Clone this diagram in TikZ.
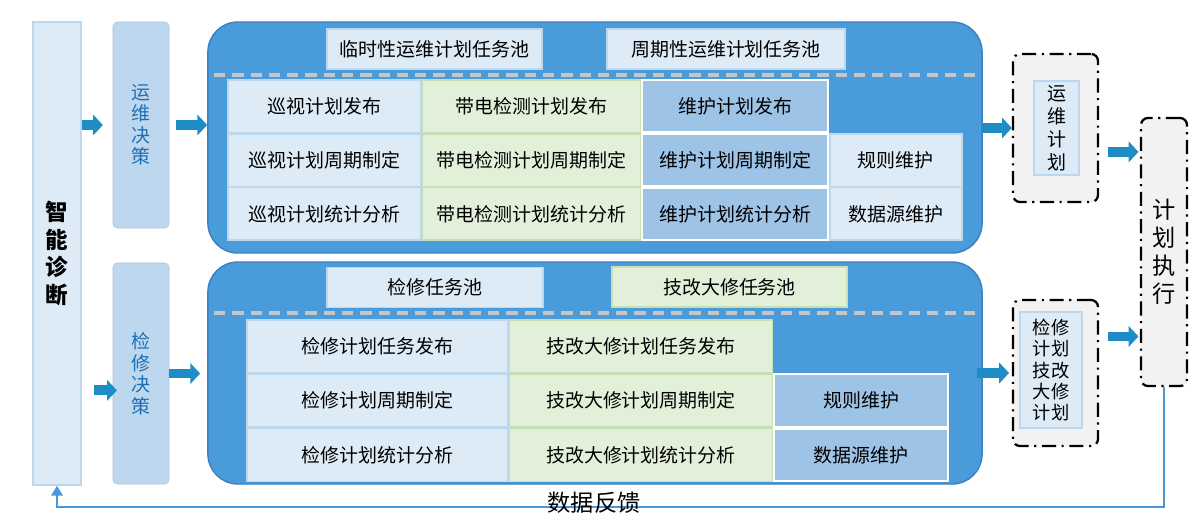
\documentclass[tikz,border=0pt]{standalone}
\usepackage{fontspec}
\setmainfont{Noto Sans CJK SC}
\usetikzlibrary{arrows.meta, positioning}
\definecolor{CellBlue}{HTML}{DDEBF7}
\definecolor{CellLine}{HTML}{BDD7EE}
\definecolor{CellGreen}{HTML}{E2F0D9}
\definecolor{GreenLine}{HTML}{C5E0B4}
\definecolor{MidBlue}{HTML}{9DC3E6}
\definecolor{PanelBlue}{HTML}{4A9BD9}
\definecolor{PanelLine}{HTML}{3B80C0}
\definecolor{ArrowBlue}{HTML}{1E8DC6}
\definecolor{FeedBlue}{HTML}{4A96DA}
\definecolor{DeciText}{HTML}{1F6FB5}
\definecolor{PlanGray}{HTML}{F2F2F2}

\begin{document}
\begin{tikzpicture}[
			x=0.025cm, y=-0.025cm,
			node distance=0pt,
			cell/.style={rectangle, draw=CellLine, fill=CellBlue, line width=1pt, inner sep=0pt, minimum height=1.31cm, text centered, font=\fontsize{13.5}{16}\selectfont},
			greencell/.style={cell, draw=GreenLine, fill=CellGreen},
			midcell/.style={cell, draw=white, fill=MidBlue, line width=1.4pt},
			pool/.style={rectangle, draw=CellLine, fill=CellBlue, line width=1pt, minimum height=1cm, font=\fontsize{13.5}{16}\selectfont},
			panel/.style={rectangle, draw=PanelLine, fill=PanelBlue, line width=1pt, rounded corners=0.75cm, minimum width=19.35cm},
			decision/.style={rectangle, fill=CellLine, draw=CellLine!80!gray, line width=0.4pt, rounded corners=3pt, minimum width=1.4cm, text=DeciText, align=center, font=\fontsize{13.5}{15.3}\selectfont},
			plan/.style={rectangle, draw=black, line width=1.6pt, dash pattern=on 10pt off 4pt on 1.5pt off 4pt, fill=PlanGray, rounded corners=5pt},
			planinner/.style={rectangle, draw=CellLine, fill=CellBlue, line width=1pt, align=center, inner sep=0pt},
			blockarrow/.style={line width=7pt, ArrowBlue, -{Triangle[length=7pt, width=14.5pt]}},
			poolsep/.style={draw=gray!45, line width=2.2pt, dash pattern=on 8pt off 5pt},
			feedback/.style={draw=FeedBlue, line width=2pt, -{Triangle[length=7pt, width=8pt]}},
			]
			\useasboundingbox (0,0) rectangle (1200,529);
			
			% left column and decisions
			\node (diag) [rectangle, draw=CellLine, fill=CellBlue, line width=1pt, minimum width=1.2cm, minimum height=11.575cm, align=center, font=\fontsize{16}{19.8}\selectfont\bfseries] at (57,253.5) {智\\能\\诊\\断};
			\node (decA) [decision, minimum height=5.15cm] at (141,125) {运\\维\\决\\策};
			\node (decB) [decision, minimum height=5.525cm] at (141,373.5) {检\\修\\决\\策};
			
			% upper panel
			\node (upbox) [panel, minimum height=5.775cm] at (595,137.5) {};
			\node (poolA) [pool, minimum width=5.375cm] at (434.5,49) {临时性运维计划任务池};
			\node (poolB) [pool, minimum width=5.95cm] at (726,49) {周期性运维计划任务池};
			\draw[poolsep] (214,75) -- (977,75);
			\node (u11) [cell, minimum width=4.825cm] at (324.5,106.2) {巡视计划发布};
			\node (u12) [greencell, minimum width=5.45cm, right=of u11] {带电检测计划发布};
			\node (u13) [midcell, minimum width=4.65cm, right=of u12] {维护计划发布};
			\node (u21) [cell, minimum width=4.825cm, below=of u11] {巡视计划周期制定};
			\node (u22) [greencell, minimum width=5.45cm, right=of u21] {带电检测计划周期制定};
			\node (u23) [midcell, minimum width=4.65cm, right=of u22] {维护计划周期制定};
			\node (u24) [cell, minimum width=3.3cm, right=of u23] {规则维护};
			\node (u31) [cell, minimum width=4.825cm, below=of u21] {巡视计划统计分析};
			\node (u32) [greencell, minimum width=5.45cm, right=of u31] {带电检测计划统计分析};
			\node (u33) [midcell, minimum width=4.65cm, right=of u32] {维护计划统计分析};
			\node (u34) [cell, minimum width=3.3cm, right=of u33] {数据源维护};
			
			% lower panel
			\node (lowbox) [panel, minimum height=5.55cm] at (595,373) {};
			\node (poolC) [pool, minimum width=5.4cm] at (435,287.5) {检修任务池};
			\node (poolD) [pool, draw=GreenLine, fill=CellGreen, minimum width=5.875cm] at (729.5,287) {技改大修任务池};
			\draw[poolsep] (214,313) -- (977,313);
			\node (l11) [cell, minimum width=6.525cm, minimum height=1.32cm] at (377.5,346.5) {检修计划任务发布};
			\node (l12) [greencell, minimum width=6.575cm, minimum height=1.32cm, right=of l11] {技改大修计划任务发布};
			\node (l21) [cell, minimum width=6.525cm, minimum height=1.32cm, below=of l11] {检修计划周期制定};
			\node (l22) [greencell, minimum width=6.575cm, minimum height=1.32cm, right=of l21] {技改大修计划周期制定};
			\node (l23) [midcell, minimum width=4.35cm, minimum height=1.32cm, right=of l22] {规则维护};
			\node (l31) [cell, minimum width=6.525cm, minimum height=1.32cm, below=of l21] {检修计划统计分析};
			\node (l32) [greencell, minimum width=6.575cm, minimum height=1.32cm, right=of l31] {技改大修计划统计分析};
			\node (l33) [midcell, minimum width=4.35cm, minimum height=1.32cm, right=of l32] {数据源维护};
			
			% plans and execution
			\node (planA) [plan, minimum width=2.125cm, minimum height=3.7cm] at (1055.5,128) {};
			\node (planAin) [planinner, minimum width=1.125cm, minimum height=2.35cm, font=\fontsize{13.5}{16.3}\selectfont] at (1056.5,128) {运\\维\\计\\划};
			\node (planB) [plan, minimum width=2.125cm, minimum height=3.65cm] at (1055.5,373) {};
			\node (planBin) [planinner, minimum width=1.55cm, minimum height=2.9cm, font=\fontsize{13}{15.2}\selectfont] at (1051,370) {检修\\计划\\技改\\大修\\计划};
			\node (exec) [plan, minimum width=1.15cm, minimum height=6.7cm, align=center, font=\fontsize{16.5}{19.8}\selectfont] at (1164,252) {计\\划\\执\\行};
			
			% arrows
			\coordinate (inB) at ([yshift=-12pt]decB.west);
			\coordinate (outA) at ([yshift=-17pt]planA.east);
			\coordinate (outB) at ([yshift=26pt]planB.east);
			\draw[blockarrow, shorten >=7pt] (diag.east |- decA) -- (decA.west);
			\draw[blockarrow, shorten <=5pt] (decA.east) -- (decA.east -| upbox.west);
			\draw[blockarrow, shorten <=9pt, shorten >=-3pt] (inB -| diag.east) -- (inB);
			\draw[blockarrow, shorten >=5pt] (decB.east) -- (decB.east -| lowbox.west);
			\draw[blockarrow] (upbox.east |- planA) -- (planA.west);
			\draw[blockarrow, shorten <=-4pt, shorten >=2pt] (lowbox.east |- planB) -- (planB.west);
			\draw[blockarrow, shorten <=6pt, shorten >=1pt] (outA) -- (outA -| exec.west);
			\draw[blockarrow, shorten <=6pt, shorten >=1pt] (outB) -- (outB -| exec.west);
			
			% feedback loop
			\coordinate (fbline) at (600,507);
			\draw[feedback] (exec.south) |- (fbline) -| (diag.south);
			\node (fbtext) [font=\fontsize{16.5}{19}\selectfont] at (594,503) {数据反馈};
		\end{tikzpicture}
\end{document}
